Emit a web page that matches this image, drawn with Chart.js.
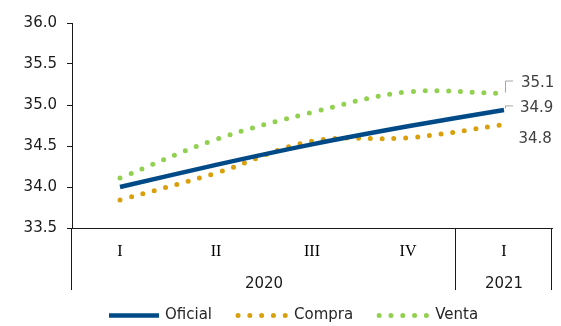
<!DOCTYPE html>
<html>
<head>
<meta charset="utf-8">
<script src="https://cdn.jsdelivr.net/npm/chart.js@4.4.0/dist/chart.umd.min.js"></script>
<style>
  html, body { margin: 0; padding: 0; background: #fff; }
  #wrap { width: 561px; height: 326px; }
</style>
</head>
<body>
<div id="wrap"><canvas id="tipoCambio"></canvas></div>
<script>
// Tipo de cambio trimestral
const quarters = ['I', 'II', 'III', 'IV', 'I'];
const years = ['2020', '2021'];
const yearSpan = [[0, 3], [4, 4]]; // primer y último trimestre de cada año
const oficial = [34.00, 34.27, 34.52, 34.74, 34.94];
const compra = [33.84, 34.17, 34.56, 34.60, 34.76];
const venta = [34.11, 34.58, 34.91, 35.16, 35.14];
const yTicks = [33.5, 34.0, 34.5, 35.0, 35.5, 36.0];

const AXIS = '#1a1a1a';
const NUM_FONT = 'DejaVu Sans';

// separadores verticales entre años, bajo el eje
const separators = {
    id: 'separators',
    afterDraw(chart) {
        const { ctx, chartArea, scales } = chart;
        const bounds = [-0.5, ...yearSpan.map(s => s[1] + 0.5)];
        ctx.save();
        ctx.strokeStyle = AXIS;
        ctx.lineWidth = 1;
        bounds.forEach(v => {
            const px = Math.round(scales.x.getPixelForValue(v)) - 0.5;
            ctx.beginPath();
            ctx.moveTo(px, chartArea.bottom);
            ctx.lineTo(px, chartArea.bottom + 62);
            ctx.stroke();
        });
        ctx.restore();
    }
};

// etiqueta con el último valor de cada serie
const endLabels = {
    id: 'endLabels',
    afterDatasetsDraw(chart, args, opts) {
        const { ctx } = chart;
        ctx.save();
        chart.data.datasets.forEach((ds, i) => {
            const meta = chart.getDatasetMeta(i);
            const last = ds.data.length - 1;
            const pt = meta.data[last];
            const o = opts.offsets[i];
            if (o.leader) {
                ctx.strokeStyle = '#a6a6a6';
                ctx.lineWidth = 1;
                ctx.beginPath();
                ctx.moveTo(pt.x + 1.5, pt.y + o.leader[0]);
                ctx.lineTo(pt.x + 1.5, pt.y + o.leader[1]);
                ctx.lineTo(pt.x + 9, pt.y + o.leader[1]);
                ctx.stroke();
            }
            ctx.fillStyle = '#404040';
            ctx.font = '15px "' + NUM_FONT + '"';
            ctx.textAlign = 'left';
            ctx.textBaseline = 'middle';
            ctx.fillText(ds.data[last].toFixed(1), pt.x + o.dx, pt.y + o.dy);
        });
        ctx.restore();
    }
};

// leyenda dibujada a mano para poder centrarla bajo el área de trazado
const lineLegend = {
    id: 'lineLegend',
    afterDraw(chart, args, opts) {
        const { ctx } = chart;
        ctx.save();
        ctx.font = '15px "' + NUM_FONT + '"';
        ctx.textBaseline = 'middle';
        ctx.textAlign = 'left';
        let x = opts.x;
        const y = opts.y;
        chart.data.datasets.forEach(ds => {
            ctx.strokeStyle = ds.borderColor;
            ctx.lineWidth = ds.borderWidth;
            ctx.lineCap = ds.borderCapStyle || 'butt';
            ctx.setLineDash(ds.borderDash || []);
            ctx.beginPath();
            ctx.moveTo(x, y);
            ctx.lineTo(x + 50, y);
            ctx.stroke();
            ctx.setLineDash([]);
            ctx.fillStyle = '#262626';
            ctx.fillText(ds.label, x + 56, y);
            x += 56 + ctx.measureText(ds.label).width + 26;
        });
        ctx.restore();
    }
};

const dotted = { borderWidth: 5, borderDash: [0, 11.8], borderCapStyle: 'round' };

new Chart(document.getElementById('tipoCambio'), {
    type: 'line',
    data: {
        labels: quarters,
        datasets: [
            { label: 'Oficial', data: oficial, borderColor: '#004b87', borderWidth: 4.5, borderCapStyle: 'butt' },
            { label: 'Compra', data: compra, borderColor: '#d9a00c', ...dotted },
            { label: 'Venta', data: venta, borderColor: '#92d050', ...dotted }
        ]
    },
    options: {
        responsive: true,
        maintainAspectRatio: false,
        animation: false,
        layout: { padding: { top: 23, right: 9, left: 0, bottom: 28 } },
        elements: {
            point: { radius: 0 },
            line: { tension: 0.36, fill: false }
        },
        plugins: {
            legend: { display: false },
            tooltip: { enabled: false },
            endLabels: {
                offsets: [
                    { dx: 16, dy: -1.5, leader: [-1.5, -4] },
                    { dx: 14.5, dy: 14.5 },
                    { dx: 17, dy: -10.5, leader: [-1, -12.5] }
                ]
            },
            lineLegend: { x: 109, y: 315.5 }
        },
        scales: {
            x: {
                type: 'category',
                offset: true,
                weight: 0,
                afterFit(scale) { scale.height = 35; },
                grid: { display: false },
                border: { display: true, color: AXIS, width: 1 },
                ticks: {
                    color: '#000',
                    font: { family: 'Liberation Serif', size: 16 },
                    padding: 6,
                    maxRotation: 0,
                    autoSkip: false
                }
            },
            x2: {
                type: 'linear',
                position: 'bottom',
                weight: 1,
                min: -0.5,
                max: 4.5,
                afterFit(scale) { scale.height = 35; },
                afterBuildTicks(scale) {
                    scale.ticks = yearSpan.map(s => ({ value: (s[0] + s[1]) / 2 }));
                },
                grid: { display: false },
                border: { display: false },
                ticks: {
                    color: '#1a1a1a',
                    font: { family: NUM_FONT, size: 15 },
                    padding: 4,
                    maxRotation: 0,
                    autoSkip: false,
                    callback: (v, i) => years[i]
                }
            },
            y: {
                min: 33.5,
                max: 36,
                afterFit(scale) { scale.width = 72; },
                afterBuildTicks(scale) {
                    scale.ticks = yTicks.map(v => ({ value: v }));
                },
                grid: { drawOnChartArea: false, drawTicks: true, tickLength: 5, color: AXIS },
                border: { display: true, color: AXIS, width: 1 },
                ticks: {
                    color: '#1a1a1a',
                    font: { family: NUM_FONT, size: 15 },
                    padding: 10,
                    callback: v => v.toFixed(1)
                }
            }
        }
    },
    plugins: [separators, endLabels, lineLegend]
});
</script>
</body>
</html>
